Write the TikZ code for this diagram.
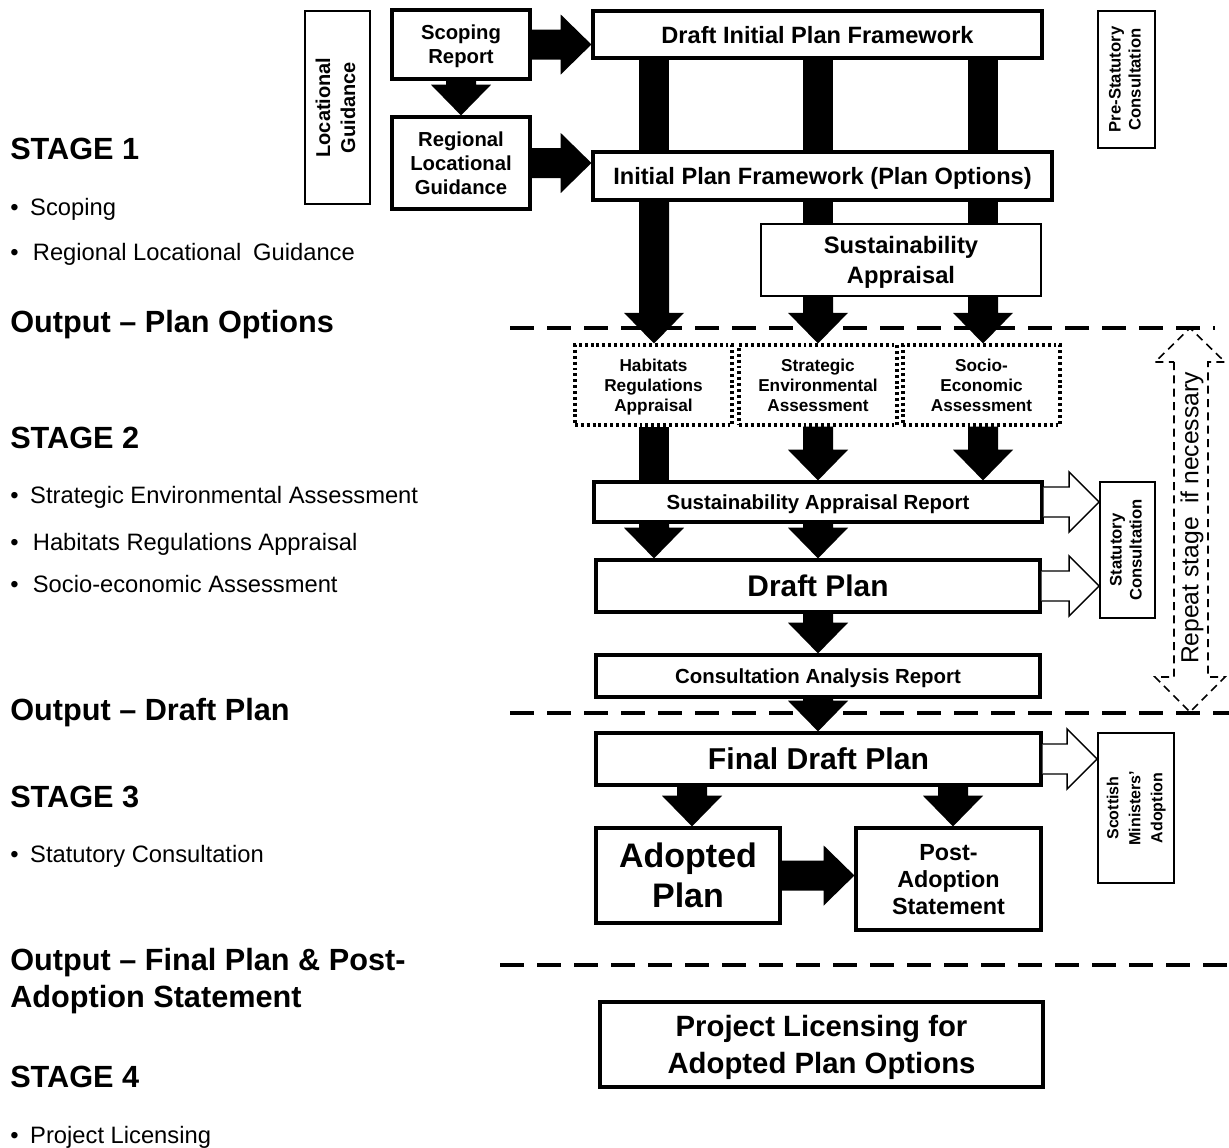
\documentclass[tikz,border=0pt]{standalone}
\usepackage{fontspec}
\usepackage{graphicx}
\setmainfont{Liberation Sans}
\usetikzlibrary{calc}
\newcommand\bx[7]{\node[#6, minimum width={(#4-#2)*0.75pt}, minimum height={(#5-#3)*0.75pt}] (#1) at ({(#2+#4)/2},{(#3+#5)/2}) {#7};}
\newcommand\fs[2]{\fontsize{#1}{#2}\selectfont}
\newcommand\rot[1]{\rotatebox{90}{\begin{tabular}{@{}c@{}}#1\end{tabular}}}
\def\sw{11.25pt}
\def\hw{22.5pt}
\def\hl{23pt}
\newcommand\blkdown[2]{\fill let \p1=#1, \p2=#2 in (\x1-\sw,\y1) -- (\x1-\sw,\y2+\hl) -- (\x1-\hw,\y2+\hl) -- (\x1,\y2) -- (\x1+\hw,\y2+\hl) -- (\x1+\sw,\y2+\hl) -- (\x1+\sw,\y1) -- cycle;}
\newcommand\blkbar[2]{\fill let \p1=#1, \p2=#2 in (\x1-\sw,\y1) rectangle (\x1+\sw,\y2);}
\newcommand\blkright[2]{\fill let \p1=#1, \p2=#2 in (\x1,\y1+\sw) -- (\x2-\hl,\y1+\sw) -- (\x2-\hl,\y1+\hw) -- (\x2,\y1) -- (\x2-\hl,\y1-\hw) -- (\x2-\hl,\y1-\sw) -- (\x1,\y1-\sw) -- cycle;}
\newcommand\openright[2]{\filldraw[fill=white, line width=1.1pt, line join=miter] let \p1=#1, \p2=#2 in (\x1,\y1+11.25pt) -- (\x2-22.5pt,\y1+11.25pt) -- (\x2-22.5pt,\y1+22.5pt) -- (\x2,\y1) -- (\x2-22.5pt,\y1-22.5pt) -- (\x2-22.5pt,\y1-11.25pt) -- (\x1,\y1-11.25pt);}
\begin{document}
\begin{tikzpicture}[x=0.75pt,y=-0.75pt,
 tbox/.style={draw, line width=2.4pt, inner sep=0pt, align=center, fill=white, text depth=0pt},
 nbox/.style={draw, line width=1.3pt, inner sep=0pt, align=center, fill=white},
 dbox/.style={draw, line width=2.3pt, dash pattern=on 2.2pt off 2.2pt, inner sep=0pt, align=center, text depth=0pt, font={\bfseries\fs{12.9}{15}}},
 head/.style={anchor=base west, inner sep=0pt, font={\bfseries\fs{23}{27}}},
 item/.style={anchor=base west, inner sep=0pt, font={\fs{17.8}{21}}},
 dline/.style={line width=2.6pt, dash pattern=on 18pt off 9.75pt}]
\fill[white] (0,0) rectangle (1229,1147);
\useasboundingbox (0,0) rectangle (1229,1147);

% left column texts
\node[head] (st1) at (10,159) {STAGE 1};
\node[item] (i1) at (10,215) {\makebox[15pt][l]{•}Scoping};
\node[item] (i2) at (10,260) {\makebox[17pt][l]{•}Regional Locational\hspace{0.5em}Guidance};
\node[head] (o1) at (10,332) {Output – Plan Options};
\node[head] (st2) at (10,448) {STAGE 2};
\node[item] (i3) at (10,503) {\makebox[15pt][l]{•}Strategic Environmental Assessment};
\node[item] (i4) at (10,550) {\makebox[17pt][l]{•}Habitats Regulations Appraisal};
\node[item] (i5) at (10,592) {\makebox[17pt][l]{•}Socio-economic Assessment};
\node[head] (o2) at (10,720) {Output – Draft Plan};
\node[head] (st3) at (10,807) {STAGE 3};
\node[item] (i6) at (10,862) {\makebox[15pt][l]{•}Statutory Consultation};
\node[head] (o3a) at (10,970) {Output – Final Plan \& Post-};
\node[head] (o3b) at (10,1007) {Adoption Statement};
\node[head] (st4) at (10,1087) {STAGE 4};
\node[item] (i7) at (10,1143) {\makebox[15pt][l]{•}Project Licensing};

% separators
\coordinate (d1a) at (510,328); \coordinate (d1b) at (1215,328);
\coordinate (d2a) at (510,713); \coordinate (d2b) at (1229,713);
\coordinate (d3a) at (500,965); \coordinate (d3b) at (1229,965);
\draw[dline] (d1a) -- (d1b);
\draw[dline] (d2a) -- (d2b);
\draw[dline] (d3a) -- (d3b);

% boxes
\bx{lg}{305}{11}{370}{204}{nbox, font={\bfseries\fs{15}{18.75}}}{\rot{Locational\\Guidance}}
\bx{sr}{392}{10}{530}{79}{tbox, font={\bfseries\fs{15.2}{18}}}{Scoping\\Report}
\bx{rlg}{392}{117}{530}{209}{tbox, font={\bfseries\fs{15.2}{18}}}{Regional\\Locational\\Guidance}
\bx{dipf}{593}{11}{1042}{58}{tbox, font={\bfseries\fs{17.7}{21}}}{Draft Initial Plan Framework}
\bx{ipf}{593}{152}{1052}{200}{tbox, font={\bfseries\fs{17.7}{21}}}{Initial Plan Framework (Plan Options)}
\bx{sa}{761}{224}{1041}{296}{nbox, text depth=0pt, font={\bfseries\fs{17.8}{22.5}}}{Sustainability\\Appraisal}
\bx{psc}{1098}{11}{1155}{148}{nbox, font={\bfseries\fs{12.5}{15}}}{\rot{Pre-Statutory\\Consultation}}
\bx{hra}{575}{345}{732}{425}{dbox}{Habitats\\Regulations\\Appraisal}
\bx{sea}{739}{345}{897}{425}{dbox}{Strategic\\Environmental\\Assessment}
\bx{sec}{903}{345}{1060}{425}{dbox}{Socio-\\Economic\\Assessment}
\bx{sar}{594}{482}{1042}{522}{tbox, font={\bfseries\fs{15.3}{18}}}{Sustainability Appraisal Report}
\bx{stat}{1100}{482}{1155}{618}{nbox, font={\bfseries\fs{12.5}{15}}}{\rot{Statutory\\Consultation}}
\bx{dp}{596}{560}{1040}{612}{tbox, font={\bfseries\fs{22.4}{26}}}{Draft Plan}
\bx{car}{596}{655}{1040}{697}{tbox, font={\bfseries\fs{15.3}{18}}}{Consultation Analysis Report}
\bx{fdp}{596}{733}{1041}{785}{tbox, font={\bfseries\fs{22.6}{26}}}{Final Draft Plan}
\bx{sma}{1098}{733}{1174}{883}{nbox, font={\bfseries\fs{12}{16.5}}}{\rot{Scottish\\Ministers'\\Adoption}}
\bx{ap}{596}{828}{780}{923}{tbox, font={\bfseries\fs{25.5}{30}}}{Adopted\\Plan}
\bx{pas}{856}{828}{1041}{930}{tbox, font={\bfseries\fs{17.5}{20.25}}}{Post-\\Adoption\\Statement}
\bx{plo}{600}{1002}{1043}{1087}{tbox, font={\bfseries\fs{22}{27.75}}}{Project Licensing for\\Adopted Plan Options}

% columns
\coordinate (c1) at (654,0);
\coordinate (c2) at (818,0);
\coordinate (c3) at (983,0);
\coordinate (c4) at (692,0);
\coordinate (c5) at (953,0);

% block arrows
\blkright{(sr.east)}{(dipf.west |- sr.east)}
\blkdown{(sr.south)}{(rlg.north)}
\blkright{(rlg.east)}{(ipf.west |- rlg.east)}
\blkbar{(dipf.south -| c1)}{(ipf.north -| c1)}
\blkbar{(dipf.south -| c2)}{(ipf.north -| c2)}
\blkbar{(dipf.south -| c3)}{(ipf.north -| c3)}
\blkdown{(ipf.south -| c1)}{(hra.north -| c1)}
\blkbar{(ipf.south -| c2)}{(sa.north -| c2)}
\blkbar{(ipf.south -| c3)}{(sa.north -| c3)}
\blkdown{(sa.south -| c2)}{(sea.north -| c2)}
\blkdown{(sa.south -| c3)}{(sec.north -| c3)}
\blkbar{(hra.south -| c1)}{(sar.north -| c1)}
\blkdown{(sea.south -| c2)}{(sar.north -| c2)}
\blkdown{(sec.south -| c3)}{(sar.north -| c3)}
\blkdown{(sar.south -| c1)}{(dp.north -| c1)}
\blkdown{(sar.south -| c2)}{(dp.north -| c2)}
\blkdown{(dp.south -| c2)}{(car.north -| c2)}
\blkdown{(car.south -| c2)}{(fdp.north -| c2)}
\blkdown{(fdp.south -| c4)}{(ap.north -| c4)}
\blkdown{(fdp.south -| c5)}{(pas.north -| c5)}
\blkright{(ap.east)}{(pas.west |- ap.east)}

% open arrows
\openright{(sar.east)}{(stat.west |- sar.east)}
\openright{(dp.east)}{(stat.west |- dp.east)}
\openright{(fdp.east)}{(sma.west |- fdp.east)}

% repeat stage double arrow
\draw[line width=1.2pt, dash pattern=on 6pt off 4pt, line join=miter] (1174,362) -- (1174,677) -- (1155,677) -- (1190,712) -- (1225,677) -- (1208,677) -- (1208,362) -- (1225,362) -- (1190,328) -- (1155,362) -- cycle;
\node[rotate=90, inner sep=0pt, font={\fs{18.5}{22}}] (rep) at (1192,518) {Repeat stage\hspace{0.55em}if necessary};
\end{tikzpicture}
\end{document}
